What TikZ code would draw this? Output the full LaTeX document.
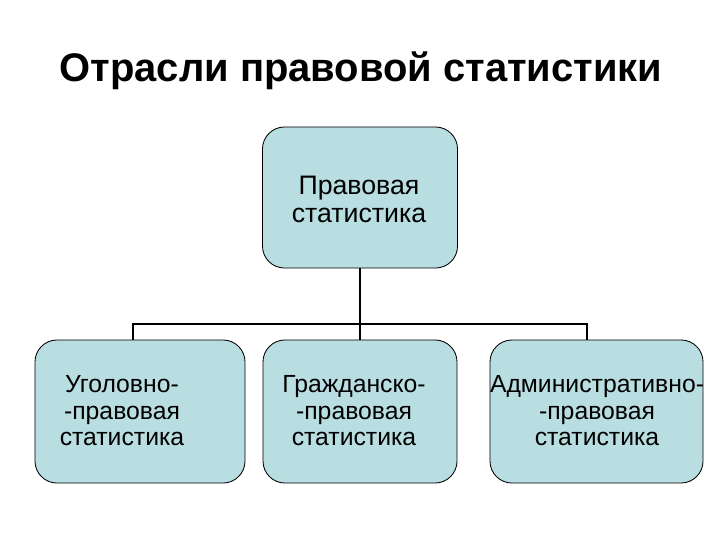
\documentclass[tikz,border=0pt]{standalone}
\usepackage{fontspec}
\setmainfont{Liberation Sans}
\usetikzlibrary{positioning}
\definecolor{boxfill}{RGB}{185,222,226}

\begin{document}
\begin{tikzpicture}[x=0.025cm, y=-0.025cm,
    branch/.style={draw=black, fill=boxfill, rounded corners=0.55cm, line width=0.6pt},
    boxtext/.style={align=center, text=black, font=\fontsize{17.6}{18.8}\selectfont},
    link/.style={draw=black, line width=1.5pt}]
  \def\bw{720}
  \def\bh{540}
  \fill[white] (0,0) rectangle (\bw,\bh);
  \useasboundingbox (0,0) rectangle (\bw,\bh);
  %title
  \node (title) at (361,71) {\fontsize{28.4}{30}\selectfont\bfseries Отрасли правовой статистики};
  %top box
  \node[branch, minimum width=4.875cm, minimum height=3.525cm] (root) at (360,197.5) {};
  \node[boxtext, font=\fontsize{19}{20}\selectfont] (roottext) at (359,199) {Правовая\\статистика};
  %bottom boxes
  \node[branch, minimum width=5.25cm, minimum height=3.575cm] (crim) at (140,411.5) {};
  \node[branch, minimum width=4.85cm, minimum height=3.575cm] (civil) at (360,411.5) {};
  \node[branch, minimum width=5.325cm, minimum height=3.575cm] (admin) at (596.5,411.5) {};
  \node[boxtext] (crimtext) at (122,411) {Уголовно-\\-правовая\\статистика};
  \node[boxtext] (civiltext) at (354,411) {Гражданско-\\-правовая\\статистика};
  \node[boxtext] (admintext) at (597,411) {Административно-\\-правовая\\статистика};
  %connectors
  \coordinate (bus) at (360,324);
  \draw[link, line width=2pt] (root.south) -- (bus);
  \draw[link] (bus) -- (civil.north);
  \draw[link] ([xshift=-0.175cm]crim.north) |- (bus) -| ([xshift=-0.24cm]admin.north);
\end{tikzpicture}
\end{document}
